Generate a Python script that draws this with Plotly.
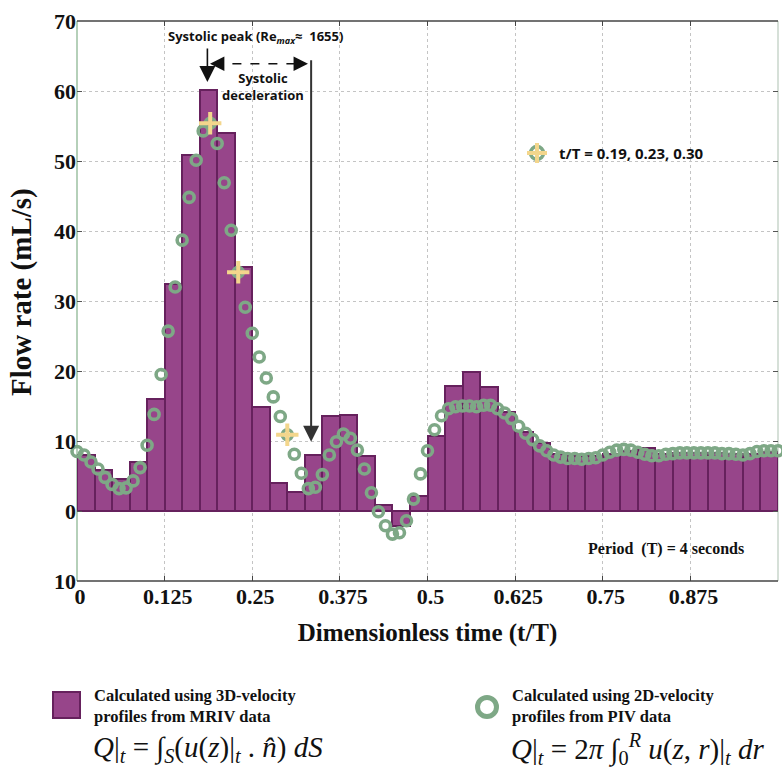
import plotly.graph_objects as go

# ---------------- data ----------------
bar_left_edges = [i * 0.025 for i in range(40)]
bar_width = 0.025
mriv_flow = [8.0, 5.8, 4.6, 7.0, 16.0, 32.4, 50.9, 60.2, 54.0, 34.8,
             14.8, 4.0, 2.7, 8.0, 13.6, 13.7, 7.9, 0.8, -2.1, 2.2,
             10.7, 17.8, 19.9, 17.7, 14.2, 11.3, 9.7, 8.2, 7.8, 7.8,
             8.2, 8.6, 9.0, 8.2, 8.3, 8.3, 8.3, 8.2, 8.1, 8.5]

piv_time = [round(i * 0.01, 2) for i in range(101)]
piv_flow = [8.5, 8.0, 7.0, 6.0, 4.8, 3.8, 3.2, 3.3, 4.3, 6.2,
            9.4, 13.8, 19.5, 25.7, 32.0, 38.7, 44.8, 50.1, 54.3, 55.4,
            52.5, 46.9, 40.1, 34.1, 29.1, 25.4, 22.0, 19.0, 16.3, 13.5,
            10.9, 8.1, 5.4, 3.2, 3.4, 5.2, 8.0, 9.9, 11.0, 10.4,
            8.7, 6.0, 2.6, -0.1, -2.1, -3.3, -3.1, -1.4, 1.7, 5.3,
            8.6, 11.6, 13.6, 14.6, 14.9, 15.0, 15.0, 14.9, 15.1, 15.1,
            14.6, 14.0, 13.2, 12.1, 11.1, 10.2, 9.3, 8.6, 8.0, 7.7,
            7.5, 7.5, 7.4, 7.5, 7.6, 8.0, 8.4, 8.7, 8.8, 8.7,
            8.4, 8.1, 7.9, 7.9, 8.1, 8.2, 8.3, 8.3, 8.3, 8.3,
            8.3, 8.3, 8.2, 8.2, 8.1, 8.0, 8.2, 8.5, 8.6, 8.6, 8.6]

highlight_time = [0.19, 0.23, 0.30]
highlight_flow = [55.4, 34.1, 10.9]

x_tickvals = [0, 0.125, 0.25, 0.375, 0.5, 0.625, 0.75, 0.875, 1]
x_ticktext = ["0", "0.125", "0.25", "0.375", "0.5", "0.625", "0.75", "0.875", "1"]
y_tickvals = [-10, 0, 10, 20, 30, 40, 50, 60, 70]
y_ticktext = ["10", "0", "10", "20", "30", "40", "50", "60", "70"]

# ---------------- styles ----------------
PURPLE = "#97458a"
PURPLE_EDGE = "#66215d"
GREEN = "#7ea886"
YELLOW = "#f3d68c"
SERIF = "Liberation Serif"
SANS = "Open Sans"

W, H = 782, 768
ML, MR, MT, MB = 77, 4, 21, 187
PW, PH = W - ML - MR, H - MT - MB


def px(xp):
    return (xp - ML) / PW


def py(yp):
    return (H - MB - yp) / PH


bar_centers = [e + bar_width / 2 for e in bar_left_edges]

fig = go.Figure()
fig.add_trace(go.Bar(
    x=bar_centers, y=mriv_flow, width=bar_width,
    marker=dict(color=PURPLE, line=dict(color=PURPLE_EDGE, width=2)),
    showlegend=False, hoverinfo="skip"))
fig.add_trace(go.Scatter(
    x=piv_time, y=piv_flow, mode="markers", cliponaxis=False,
    marker=dict(symbol="circle-open", size=10, color=GREEN,
                line=dict(color=GREEN, width=3.6)),
    showlegend=False, hoverinfo="skip"))
fig.add_trace(go.Scatter(
    x=highlight_time, y=highlight_flow, mode="markers", cliponaxis=False,
    marker=dict(symbol="cross-thin", size=16, color=YELLOW,
                line=dict(color=YELLOW, width=4)),
    showlegend=False, hoverinfo="skip"))

ann = []
shapes = []

# Systolic peak label + arrow
ann.append(dict(x=0.254, y=67.7, xref="x", yref="y", showarrow=False,
                text="<b>Systolic peak (Re<sub><i>max</i></sub>\u2248\u00a0 1655)</b>",
                font=dict(family=SANS, size=13, color="#111")))
ann.append(dict(x=0.186, y=61.3, ax=0.186, ay=66.3, xref="x", yref="y",
                axref="x", ayref="y", showarrow=True, text="",
                arrowhead=2, arrowsize=2.0, arrowwidth=1.6, arrowcolor="#111"))
# dashed double arrow
shapes.append(dict(type="line", xref="x", yref="y", x0=0.196, x1=0.323,
                   y0=63.9, y1=63.9, line=dict(color="#111", width=1.6, dash="dash")))
ann.append(dict(x=0.1897, y=63.9, ax=12, ay=0, xref="x", yref="y",
                showarrow=True, text="", arrowhead=2, arrowsize=1.8,
                arrowwidth=1.6, arrowcolor="#111"))
ann.append(dict(x=0.3295, y=63.9, ax=-12, ay=0, xref="x", yref="y",
                showarrow=True, text="", arrowhead=2, arrowsize=1.8,
                arrowwidth=1.6, arrowcolor="#111"))
# vertical arrow
ann.append(dict(x=0.334, y=9.9, ax=0.334, ay=64.6, xref="x", yref="y",
                axref="x", ayref="y", showarrow=True, text="",
                arrowhead=2, arrowsize=1.6, arrowwidth=2, arrowcolor="#333"))
ann.append(dict(x=0.265, y=60.6, xref="x", yref="y", showarrow=False,
                text="<b>Systolic<br>deceleration</b>",
                font=dict(family=SANS, size=13, color="#111")))

# t/T legend-like marker
r = 6.5
shapes.append(dict(type="circle", xref="paper", yref="paper",
                   x0=px(537 - r), x1=px(537 + r), y0=py(153 + r), y1=py(153 - r),
                   line=dict(color=GREEN, width=3.5)))
shapes.append(dict(type="line", xref="paper", yref="paper",
                   x0=px(527), x1=px(547), y0=py(153), y1=py(153),
                   line=dict(color=YELLOW, width=4)))
shapes.append(dict(type="line", xref="paper", yref="paper",
                   x0=px(537), x1=px(537), y0=py(143), y1=py(163),
                   line=dict(color=YELLOW, width=4)))
ann.append(dict(x=px(557), y=py(153), xref="paper", yref="paper",
                xanchor="left", yanchor="middle", showarrow=False,
                text="<b>t/T = 0.19, 0.23, 0.30</b>",
                font=dict(family=SANS, size=15, color="#111")))

# Period text
ann.append(dict(x=px(586), y=py(549), xref="paper", yref="paper",
                xanchor="left", yanchor="middle", showarrow=False,
                text="<b>Period\u00a0 (T) = 4 seconds</b>",
                font=dict(family=SERIF, size=16, color="#111")))

# y-axis title
ann.append(dict(x=px(22), y=py(292), xref="paper", yref="paper",
                xanchor="center", yanchor="middle", showarrow=False, textangle=-90,
                text="<b>Flow rate (mL/s)</b>",
                font=dict(family=SERIF, size=29, color="#111")))

# bottom legend: MRIV
shapes.append(dict(type="rect", xref="paper", yref="paper",
                   x0=px(53), x1=px(80), y0=py(718), y1=py(692),
                   fillcolor=PURPLE, line=dict(color=PURPLE_EDGE, width=2)))
ann.append(dict(x=px(92), y=py(706), xref="paper", yref="paper",
                xanchor="left", yanchor="middle", align="left", showarrow=False,
                text="<b>Calculated using 3D-velocity<br>profiles from MRIV data</b>",
                font=dict(family=SERIF, size=16.5, color="#111")))
ann.append(dict(x=px(91), y=py(749), xref="paper", yref="paper",
                xanchor="left", yanchor="middle", showarrow=False,
                text="<i>Q</i>|<sub><i>t</i></sub> = \u222b<sub><i>S</i></sub>(<i>u</i>(<i>z</i>)|<sub><i>t</i></sub> . <i>n\u0302</i>) <i>dS</i>",
                font=dict(family=SERIF, size=29, color="#111")))

# bottom legend: PIV
rr = 9.5
shapes.append(dict(type="circle", xref="paper", yref="paper",
                   x0=px(487 - rr), x1=px(487 + rr), y0=py(707 + rr), y1=py(707 - rr),
                   line=dict(color=GREEN, width=5)))
ann.append(dict(x=px(510), y=py(706), xref="paper", yref="paper",
                xanchor="left", yanchor="middle", align="left", showarrow=False,
                text="<b>Calculated using 2D-velocity<br>profiles from PIV data</b>",
                font=dict(family=SERIF, size=16.5, color="#111")))
ann.append(dict(x=px(509), y=py(749), xref="paper", yref="paper",
                xanchor="left", yanchor="middle", showarrow=False,
                text="<i>Q</i>|<sub><i>t</i></sub> = 2<i>\u03c0</i> \u222b<sub>0</sub><sup><i>R</i></sup> <i>u</i>(<i>z</i>, <i>r</i>)|<sub><i>t</i></sub> <i>dr</i>",
                font=dict(family=SERIF, size=29, color="#111")))

# frame: top/bottom dark, left/right light green-grey
shapes.append(dict(type="line", xref="paper", yref="paper", x0=0, x1=1, y0=1, y1=1,
                   line=dict(color="#444", width=1.5)))
shapes.append(dict(type="line", xref="paper", yref="paper", x0=0, x1=1, y0=0, y1=0,
                   line=dict(color="#444", width=1.5)))
shapes.append(dict(type="line", xref="paper", yref="paper", x0=0, x1=0, y0=0, y1=1,
                   line=dict(color="#9cc0a2", width=1.5), layer="below"))
shapes.append(dict(type="line", xref="paper", yref="paper", x0=1, x1=1, y0=0, y1=1,
                   line=dict(color="#c9d6cb", width=1.5), layer="below"))

fig.update_layout(
    width=W, height=H,
    margin=dict(l=ML, r=MR, t=MT, b=MB),
    paper_bgcolor="white", plot_bgcolor="white",
    bargap=0, showlegend=False,
    annotations=ann, shapes=shapes,
    font=dict(family=SERIF, color="#111"),
)
fig.update_xaxes(
    range=[0, 1], tickvals=x_tickvals, ticktext=["<b>%s</b>" % t for t in x_ticktext],
    tickfont=dict(family=SERIF, size=22, color="#111"),
    ticks="inside", ticklen=5, tickcolor="#444", tickwidth=1,
    ticklabelshift=3,
    showline=False, mirror="ticks", zeroline=False,
    showgrid=True, gridcolor="#c4c4c4", griddash="dot", gridwidth=1,
    title=dict(text="<b>Dimensionless time (t/T)</b>", standoff=15,
               font=dict(family=SERIF, size=25, color="#111")),
)
fig.update_yaxes(
    range=[-10, 70], tickvals=y_tickvals, ticktext=["<b>%s</b>" % t for t in y_ticktext],
    tickfont=dict(family=SERIF, size=22, color="#111"),
    ticks="inside", ticklen=5, tickcolor="#555", tickwidth=1,
    showline=False, mirror="ticks", zeroline=False,
    showgrid=True, gridcolor="#c4c4c4", griddash="dot", gridwidth=1,
)

fig.write_html("out.html")
